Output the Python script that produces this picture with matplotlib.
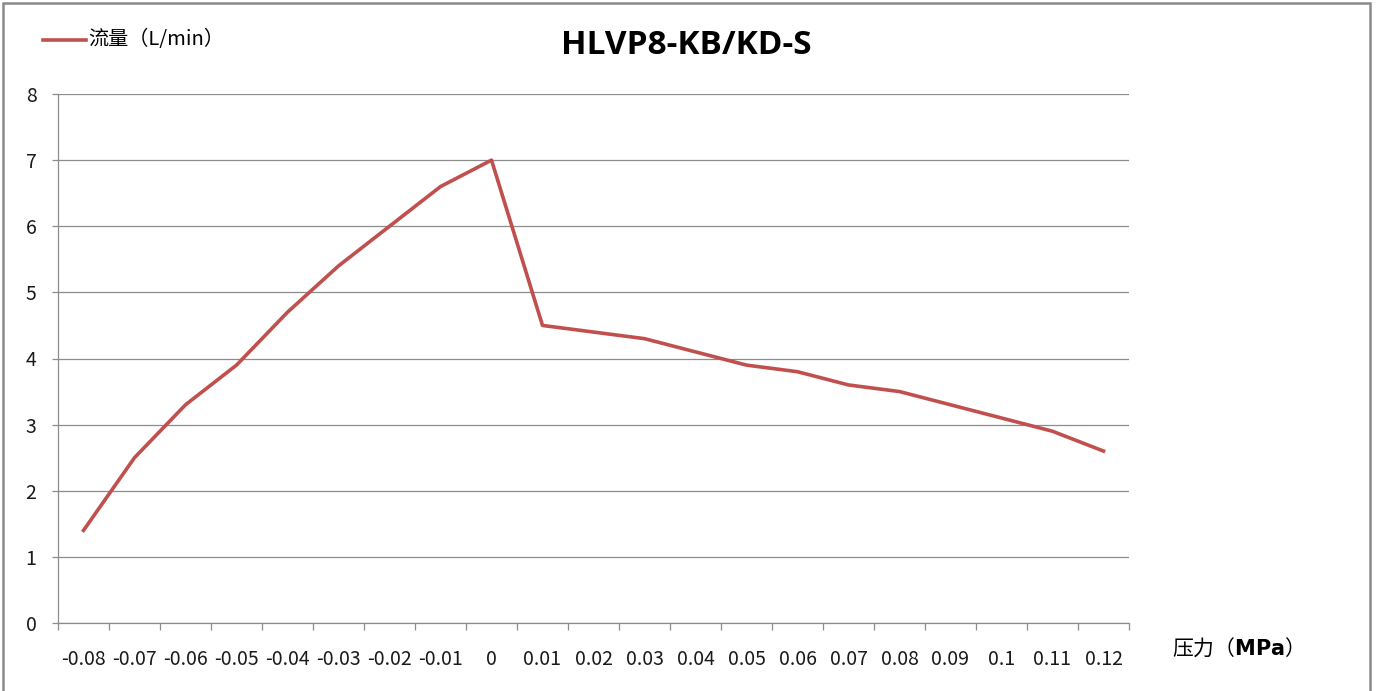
import matplotlib
matplotlib.use("Agg")
import matplotlib.pyplot as plt
from matplotlib.patches import Rectangle
from matplotlib.lines import Line2D

plt.rcParams['font.family'] = ['Noto Sans CJK SC', 'DejaVu Sans']
plt.rcParams['mathtext.fontset'] = 'dejavusans'

categories = ["-0.08", "-0.07", "-0.06", "-0.05", "-0.04", "-0.03", "-0.02", "-0.01", "0",
              "0.01", "0.02", "0.03", "0.04", "0.05", "0.06", "0.07", "0.08", "0.09", "0.1",
              "0.11", "0.12"]
flow = [1.4, 2.5, 3.3, 3.9, 4.7, 5.4, 6.0, 6.6, 7.0,
        4.5, 4.4, 4.3, 4.1, 3.9, 3.8, 3.6, 3.5, 3.3, 3.1, 2.9, 2.6]
y_ticks = [0, 1, 2, 3, 4, 5, 6, 7, 8]

W, H = 1376, 691
fig = plt.figure(figsize=(W / 100, H / 100), dpi=100)
ax = fig.add_axes([58 / W, 1 - 623 / H, (1129 - 58) / W, (623 - 94) / H])

n = len(categories)
x = list(range(n))
ax.plot(x, flow, color='#C0504D', lw=2.6, solid_joinstyle='round')

ax.set_xlim(-0.5, n - 0.5)
ax.set_ylim(0, 8)
ax.set_yticks(y_ticks)
ax.set_yticklabels([str(v) for v in y_ticks], fontsize=14, color='#1a1a1a')
ax.yaxis.grid(True, color='#8c8c8c', lw=0.9)
ax.set_axisbelow(True)

ax.set_xticks([i - 0.5 for i in range(n + 1)])
ax.set_xticklabels([])
ax.set_xticks(x, minor=True)
ax.set_xticklabels(categories, minor=True, fontsize=14, color='#1a1a1a')
ax.tick_params(axis='x', which='major', length=5, color='#8c8c8c', width=0.9, direction='out')
ax.tick_params(axis='x', which='minor', length=0, pad=19)
ax.tick_params(axis='y', length=4.5, color='#8c8c8c', width=0.9, pad=11)

for s in ['top', 'right']:
    ax.spines[s].set_visible(False)
for s in ['left', 'bottom']:
    ax.spines[s].set_color('#8c8c8c')
    ax.spines[s].set_linewidth(0.9)

fig.text(686 / W, 1 - 45 / H, "HLVP8-KB/KD-S", ha='center', va='center',
         fontsize=24, fontweight='bold', family=['Open Sans', 'DejaVu Sans'])

# legend
fig.add_artist(Line2D([43 / W, 86 / W], [1 - 40 / H, 1 - 40 / H], color='#C0504D', lw=2.6,
                      transform=fig.transFigure))
fig.text(88 / W, 1 - 40 / H, "流量（L/min）", ha='left', va='center', fontsize=14.5)

# axis label
fig.text(1172 / W, 1 - 648 / H, r"压力（$\mathbf{MPa}$）", ha='left', va='center', fontsize=15)

# figure border
fig.add_artist(Rectangle((3 / W, -0.01), (1370 - 3) / W, 1 - 3 / H + 0.01, fill=False,
                         edgecolor='#8a8a8a', lw=1.8, transform=fig.transFigure))

fig.savefig("out.png", dpi=100)
